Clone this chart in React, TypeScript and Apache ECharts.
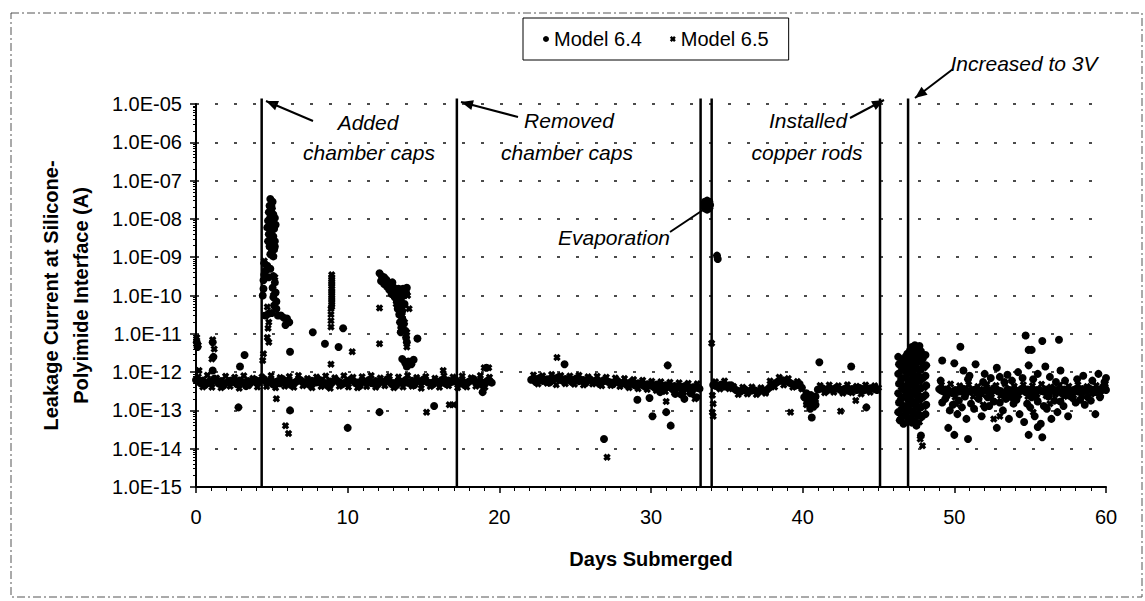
import React, { useEffect, useRef } from "react";
import * as echarts from "echarts";

const FONT = "'Liberation Sans', Arial, Helvetica, sans-serif";

const yTickLabels = [
  "1.0E-15", "1.0E-14", "1.0E-13", "1.0E-12", "1.0E-11", "1.0E-10",
  "1.0E-09", "1.0E-08", "1.0E-07", "1.0E-06", "1.0E-05",
];
const eventDays = [4.33, 17.2, 33.27, 34.0, 45.1, 46.95];

// ---- Model 6.4 (circles) ----
const model64Band: [number, number][] = [
  [0,6.2e-13],[0.3,5.1e-13],[0.6,4.6e-13],[0.9,5.8e-13],[1.2,6.7e-13],[1.5,5.0e-13],[1.8,4.4e-13],[2.1,5.5e-13],[2.4,6.1e-13],[2.7,4.8e-13],
  [3.0,5.6e-13],[3.3,4.3e-13],[3.6,5.2e-13],[3.9,6.3e-13],[4.2,5.9e-13],[4.5,6.5e-13],[4.8,5.3e-13],[5.1,4.7e-13],[5.4,5.8e-13],[5.7,6.6e-13],
  [6.0,5.1e-13],[6.3,4.5e-13],[6.6,5.6e-13],[6.9,6.1e-13],[7.2,5.0e-13],[7.5,4.6e-13],[7.8,5.7e-13],[8.1,6.3e-13],[8.4,4.9e-13],[8.7,4.3e-13],
  [9.0,5.4e-13],[9.3,6.0e-13],[9.6,4.7e-13],[9.9,5.5e-13],[10.2,6.4e-13],[10.5,5.2e-13],[10.8,4.4e-13],[11.1,5.7e-13],[11.4,6.2e-13],[11.7,5.0e-13],
  [12.0,4.8e-13],[12.3,5.6e-13],[12.6,6.5e-13],[12.9,4.9e-13],[13.2,4.5e-13],[13.5,5.4e-13],[13.8,6.1e-13],[14.1,5.1e-13],[14.4,4.6e-13],[14.7,5.8e-13],
  [15.0,6.4e-13],[15.3,5.3e-13],[15.6,4.7e-13],[15.9,5.6e-13],[16.2,6.2e-13],[16.5,4.9e-13],[16.8,5.5e-13],[17.1,6.3e-13],[17.4,5.0e-13],[17.7,4.6e-13],
  [18.0,5.7e-13],[18.3,6.6e-13],[18.6,5.2e-13],[18.9,4.5e-13],[19.2,5.9e-13],[19.5,5.3e-13],
  [22.1,6.3e-13],[22.4,5.5e-13],[22.7,7.1e-13],[23.0,6.0e-13],[23.3,5.3e-13],[23.6,6.8e-13],[23.9,7.4e-13],[24.2,5.8e-13],[24.5,6.5e-13],[24.8,5.4e-13],
  [25.1,6.9e-13],[25.4,6.1e-13],[25.7,5.2e-13],[26.0,6.4e-13],[26.3,5.7e-13],[26.6,4.9e-13],[26.9,6.2e-13],[27.2,5.5e-13],[27.5,4.8e-13],[27.8,5.9e-13],
  [28.1,5.1e-13],[28.4,4.6e-13],[28.7,5.6e-13],[29.0,4.4e-13],[29.3,5.0e-13],[29.6,4.2e-13],[29.9,4.8e-13],[30.2,4.0e-13],[30.5,4.6e-13],[30.8,3.8e-13],
  [31.1,4.5e-13],[31.4,3.6e-13],[31.7,4.2e-13],[32.0,3.9e-13],[32.3,4.4e-13],[32.6,3.5e-13],[32.9,4.1e-13],[33.2,3.7e-13],
  [34.1,4.6e-13],[34.4,4.2e-13],[34.7,4.8e-13],[35.0,4.3e-13],[35.3,4.5e-13],[35.6,3.4e-13],[35.9,3.1e-13],[36.2,3.5e-13],[36.5,3.2e-13],[36.8,3.4e-13],
  [37.1,3.0e-13],[37.4,3.3e-13],[37.7,3.6e-13],[38.0,4.6e-13],[38.3,5.4e-13],[38.6,6.2e-13],[38.9,5.8e-13],[39.2,5.1e-13],[39.5,4.4e-13],[39.8,4.9e-13],
  [40.1,2.2e-13],[40.4,1.7e-13],[40.7,2.0e-13],[41.0,3.5e-13],[41.3,3.8e-13],[41.6,3.3e-13],[41.9,3.6e-13],[42.2,3.9e-13],[42.5,3.4e-13],[42.8,3.7e-13],
  [43.1,3.2e-13],[43.4,3.6e-13],[43.7,3.9e-13],[44.0,3.3e-13],[44.3,3.5e-13],[44.6,3.8e-13],[44.9,3.4e-13],
  [49.0,3.6e-13],[49.3,3.1e-13],[49.6,3.4e-13],[49.9,2.8e-13],[50.2,3.3e-13],[50.5,3.7e-13],[50.8,2.9e-13],[51.1,3.2e-13],[51.4,3.5e-13],[51.7,2.7e-13],
  [52.0,3.4e-13],[52.3,3.0e-13],[52.6,3.8e-13],[52.9,3.1e-13],[53.2,2.8e-13],[53.5,3.5e-13],[53.8,3.2e-13],[54.1,2.6e-13],[54.4,3.6e-13],[54.7,3.0e-13],
  [55.0,3.3e-13],[55.3,2.7e-13],[55.6,3.4e-13],[55.9,3.1e-13],[56.2,2.9e-13],[56.5,3.5e-13],[56.8,3.2e-13],[57.1,2.8e-13],[57.4,3.4e-13],[57.7,3.1e-13],
  [58.0,3.6e-13],[58.3,3.0e-13],[58.6,3.3e-13],[58.9,3.7e-13],[59.2,3.2e-13],[59.5,3.5e-13],[59.8,4.1e-13],[60.0,3.4e-13],
];

// second row of the dense baseline readings
const model64BandMid: [number, number][] = [
  [0.15,5.7e-13],[0.45,6.0e-13],[0.75,5.2e-13],[1.05,5.5e-13],[1.35,6.2e-13],[1.65,5.8e-13],[1.95,5.1e-13],[2.25,5.9e-13],[2.55,5.4e-13],[2.85,6.0e-13],
  [3.15,5.3e-13],[3.45,5.8e-13],[3.75,6.1e-13],[4.05,5.2e-13],[4.65,5.6e-13],[4.95,6.0e-13],[5.25,5.5e-13],[5.55,5.1e-13],[5.85,5.9e-13],[6.15,5.7e-13],
  [6.45,5.2e-13],[6.75,6.1e-13],[7.05,5.6e-13],[7.35,5.3e-13],[7.65,5.9e-13],[7.95,5.4e-13],[8.25,6.0e-13],[8.55,5.2e-13],[8.85,5.7e-13],[9.15,6.2e-13],
  [9.45,5.5e-13],[9.75,5.1e-13],[10.05,5.8e-13],[10.35,5.9e-13],[10.65,5.3e-13],[10.95,6.0e-13],[11.25,5.6e-13],[11.55,5.2e-13],[11.85,5.8e-13],[12.15,6.1e-13],
  [12.45,5.4e-13],[12.75,5.7e-13],[13.05,5.2e-13],[13.35,6.0e-13],[13.65,5.5e-13],[13.95,5.3e-13],[14.25,5.9e-13],[14.55,6.1e-13],[14.85,5.4e-13],[15.15,5.8e-13],
  [15.45,5.2e-13],[15.75,5.9e-13],[16.05,5.6e-13],[16.35,5.3e-13],[16.65,6.0e-13],[16.95,5.7e-13],[17.25,5.4e-13],[17.55,5.9e-13],[17.85,5.2e-13],[18.15,6.1e-13],
  [18.45,5.6e-13],[18.75,5.8e-13],[19.05,5.3e-13],[19.35,5.7e-13],
  [22.25,6.4e-13],[22.55,6.7e-13],[22.85,5.9e-13],[23.15,6.5e-13],[23.45,6.1e-13],[23.75,6.9e-13],[24.05,6.3e-13],[24.35,6.6e-13],[24.65,6.0e-13],[24.95,6.4e-13],
  [25.25,5.8e-13],[25.55,6.2e-13],[25.85,6.5e-13],[26.15,5.7e-13],[26.45,6.0e-13],[26.75,5.6e-13],[27.05,5.9e-13],[27.35,5.3e-13],[27.65,5.6e-13],[27.95,5.1e-13],
  [28.25,5.4e-13],[28.55,5.0e-13],[28.85,4.7e-13],[29.15,5.1e-13],[29.45,4.6e-13],[29.75,4.8e-13],[30.05,4.4e-13],[30.35,4.7e-13],[30.65,4.2e-13],[30.95,4.5e-13],
  [31.25,4.1e-13],[31.55,4.3e-13],[31.85,3.9e-13],[32.15,4.2e-13],[32.45,3.8e-13],[32.75,4.0e-13],[33.05,3.9e-13],
  [34.25,4.4e-13],[34.55,4.6e-13],[34.85,4.2e-13],[35.15,4.5e-13],[35.45,3.8e-13],[35.75,3.2e-13],[36.05,3.4e-13],[36.35,3.1e-13],[36.65,3.3e-13],[36.95,3.2e-13],
  [37.25,3.4e-13],[37.55,3.1e-13],[37.85,4.1e-13],[38.15,5.0e-13],[38.45,5.8e-13],[38.75,6.0e-13],[39.05,5.5e-13],[39.35,4.8e-13],[39.65,4.6e-13],[39.95,3.9e-13],
  [40.25,2.0e-13],[40.55,1.8e-13],[40.85,2.3e-13],[41.15,3.7e-13],[41.45,3.5e-13],[41.75,3.8e-13],[42.05,3.4e-13],[42.35,3.7e-13],[42.65,3.5e-13],[42.95,3.3e-13],
  [43.25,3.6e-13],[43.55,3.4e-13],[43.85,3.7e-13],[44.15,3.5e-13],[44.45,3.8e-13],[44.75,3.6e-13],
  [49.15,3.3e-13],[49.45,3.5e-13],[49.75,3.0e-13],[50.05,3.4e-13],[50.35,3.1e-13],[50.65,3.6e-13],[50.95,3.2e-13],[51.25,3.4e-13],[51.55,2.9e-13],[51.85,3.3e-13],
  [52.15,3.6e-13],[52.45,3.1e-13],[52.75,3.4e-13],[53.05,3.2e-13],[53.35,2.9e-13],[53.65,3.4e-13],[53.95,3.6e-13],[54.25,3.1e-13],[54.55,3.3e-13],[54.85,3.5e-13],
  [55.15,3.0e-13],[55.45,3.4e-13],[55.75,3.2e-13],[56.05,3.5e-13],[56.35,3.1e-13],[56.65,3.3e-13],[56.95,3.0e-13],[57.25,3.5e-13],[57.55,3.2e-13],[57.85,3.4e-13],
  [58.15,3.1e-13],[58.45,3.6e-13],[58.75,3.3e-13],[59.05,3.5e-13],[59.35,3.0e-13],[59.65,3.4e-13],[59.95,3.7e-13],
];

const model64Spikes: [number, number][] = [
  // after "Added chamber caps"
  [4.9,3.3e-8],[5.05,2.8e-8],[4.85,2.2e-8],[5.0,1.9e-8],[4.8,1.5e-8],[5.1,1.3e-8],[4.9,1.1e-8],[4.75,9e-9],[5.05,8e-9],[4.85,6.5e-9],
  [5.15,5.5e-9],[4.95,5e-9],[4.8,4e-9],[5.1,3.5e-9],[4.9,3e-9],[5.2,2.6e-9],[5.0,2.2e-9],[4.85,1.9e-9],[5.15,1.6e-9],[5.0,1.4e-9],
  [4.9,1.2e-9],[5.1,1.05e-9],[5.2,1.9e-9],[4.75,2.6e-9],[5.25,7e-9],[4.95,1.6e-8],[4.7,6e-9],[5.2,1.05e-8],
  [4.5,7e-10],[4.7,6e-10],[4.6,4.5e-10],[4.9,5e-10],[4.5,3.5e-10],[4.8,3e-10],[5.1,3.2e-10],[5.2,2.2e-10],[5.05,1.6e-10],[5.25,1.2e-10],
  [5.1,9e-11],[5.3,7e-11],[5.15,5.5e-11],[5.3,4.5e-11],[5.0,3.5e-11],[5.4,3e-11],[5.6,3e-11],[5.8,2.6e-11],[6.0,2.5e-11],[6.15,2e-11],
  [5.9,1.7e-11],[4.6,3e-11],[4.8,3.4e-11],[4.45,2.5e-10],[4.45,1.5e-10],[4.4,1e-10],[6.2,1e-13],
  // early outliers
  [0.05,6e-12],[0.1,4.5e-12],[1.1,6e-12],[1.15,2.5e-12],[1.1,1.1e-12],[2.8,1.2e-13],[2.9,1.4e-12],[3.2,2.8e-12],
  [6.2,3.4e-12],[7.7,1.1e-11],[8.5,5.5e-12],[9.4,4.5e-12],[9.7,1.4e-11],[10.0,3.5e-14],[12.1,9e-14],[14.6,7.5e-12],[15.7,1.3e-13],
  // days 12-14 cluster
  [12.1,3.8e-10],[12.25,3.2e-10],[12.2,2.4e-10],[12.4,3e-10],[12.4,2e-10],[12.55,2.6e-10],[12.6,1.7e-10],[12.7,2.2e-10],[12.75,1.4e-10],[12.9,1.9e-10],
  [12.9,1.1e-10],[13.05,1.6e-10],[13.1,9e-11],[13.2,1.3e-10],[13.25,7e-11],[13.35,1.5e-10],[13.4,1.1e-10],[13.45,5.5e-11],[13.5,8e-11],[13.55,1.3e-10],
  [13.65,1.5e-10],[13.7,1e-10],[13.75,6e-11],[13.85,1.2e-10],[13.9,1.6e-10],[13.6,4e-11],[13.3,4.5e-11],[13.4,3.2e-11],[13.6,2.5e-11],[13.45,2e-11],
  [13.7,1.8e-11],[13.55,1.5e-11],[13.8,1.2e-11],[13.5,1.1e-11],[13.85,8e-12],[13.9,6e-12],[12.95,2.2e-10],
  [13.6,2.2e-12],[13.8,1.7e-12],[14.0,1.9e-12],[14.2,1.6e-12],[14.35,2.1e-12],[13.9,1.4e-12],
  [19.15,1.3e-12],[18.9,3e-13],
  // days 22-33
  [24.3,1.6e-12],[26.9,1.8e-14],[29.1,1.9e-13],[29.9,2.1e-13],[30.1,7e-14],[31.0,9e-14],[31.3,4e-14],[31.1,1.5e-12],[32.2,2e-13],[32.0,2.6e-13],
  [33.0,2.2e-13],[32.6,2.8e-13],[31.6,2.7e-13],[30.6,3e-13],
  // evaporation
  [33.7,2.3e-8],[33.6,2.1e-8],[33.8,2.5e-8],[33.65,2.6e-8],[33.75,2e-8],[33.5,2.3e-8],[33.9,2.3e-8],[33.7,3.0e-8],[33.7,1.75e-8],
  [33.55,2.8e-8],[33.85,2.8e-8],[33.55,1.9e-8],[33.85,1.9e-8],
  [34.35,1.1e-9],[34.4,9e-10],
  // days 34-45
  [41.1,1.8e-12],[43.2,1.4e-12],[40.6,6.5e-14],[44.2,1.2e-13],[40.3,1.5e-13],[40.5,1.1e-13],[40.25,2.8e-13],[40.55,2.5e-13],[40.85,1.4e-13],
  // days 46-48 cluster
  [46.3,2.5e-12],[46.35,1.6e-12],[46.3,9e-13],[46.35,5e-13],[46.3,2.8e-13],[46.35,1.6e-13],[46.3,9e-14],[46.4,5.5e-14],
  [46.6,2.2e-12],[46.65,1.3e-12],[46.6,7e-13],[46.65,4e-13],[46.6,2.2e-13],[46.65,1.2e-13],[46.6,7e-14],[46.65,4.5e-14],
  [46.9,3e-12],[46.95,1.8e-12],[46.9,1.1e-12],[46.95,6e-13],[46.9,3.4e-13],[46.95,1.9e-13],[46.9,1.05e-13],[46.95,6e-14],
  [47.2,4.5e-12],[47.25,2.6e-12],[47.2,1.5e-12],[47.25,8.5e-13],[47.2,4.8e-13],[47.25,2.7e-13],[47.2,1.5e-13],[47.25,8.5e-14],[47.2,4.8e-14],
  [47.5,4e-12],[47.55,2.3e-12],[47.5,1.3e-12],[47.55,7.5e-13],[47.5,4.2e-13],[47.55,2.4e-13],[47.5,1.3e-13],[47.55,7.5e-14],[47.5,4e-14],
  [47.8,3.5e-12],[47.85,2e-12],[47.8,1.15e-12],[47.85,6.5e-13],[47.8,3.8e-13],[47.85,2.1e-13],[47.8,1.2e-13],[47.85,6.8e-14],[47.8,2.2e-14],
  [48.1,2.8e-12],[48.15,1.5e-12],[48.1,8e-13],[48.15,4.5e-13],[48.1,2.5e-13],[48.15,1.4e-13],[48.1,8e-14],[47.4,5e-12],[47.7,4.8e-12],
  // days 49-60 scatter
  [49.2,2e-12],[50.0,1.7e-12],[50.4,4.6e-12],[51.4,1.6e-12],[52.8,1.3e-12],[54.7,9e-12],[54.9,3.8e-12],[55.1,3.8e-12],[55.8,6.5e-12],[56.0,1.4e-12],
  [56.9,7e-12],[57.0,1.1e-12],[60.0,7e-13],[51.0,8e-13],[52.0,9e-13],[53.5,8.5e-13],[54.2,1e-12],[54.9,1.5e-12],[55.5,9e-13],[58.5,8e-13],
  [59.5,9e-13],[50.6,1.1e-12],[53.0,7.5e-13],[49.1,6e-13],[50.9,6.5e-13],[52.4,7e-13],[53.8,6e-13],[54.5,7e-13],[55.2,6.5e-13],[56.3,7.5e-13],
  [57.3,6e-13],[58.1,6.5e-13],[59.1,6e-13],[59.9,5.5e-13],[51.9,5.5e-13],[53.3,5.5e-13],[56.7,5.5e-13],
  [49.6,3.5e-14],[50.0,2.3e-14],[50.9,1.8e-14],[52.8,3.5e-14],[54.9,2.3e-14],[55.8,2e-14],[55.5,3.7e-14],[59.3,8e-14],[49.2,1.6e-13],[49.7,1e-13],
  [50.2,8e-14],[50.5,1.2e-13],[50.8,6e-14],[51.3,1.1e-13],[51.8,7e-14],[52.3,1.3e-13],[53.2,1e-13],[53.6,6e-14],[53.9,1.5e-13],[54.3,8e-14],
  [54.6,5e-14],[55.0,1.2e-13],[55.3,7e-14],[55.7,4.5e-14],[56.1,1.1e-13],[56.4,6e-14],[56.8,9e-14],[57.2,1.3e-13],[57.5,7e-14],[58.0,1.6e-13],
  [58.6,1.4e-13],[59.0,1.8e-13],[49.4,2e-13],[50.3,1.8e-13],[51.6,2e-13],[52.6,1.7e-13],[53.4,2e-13],[54.1,1.9e-13],[55.5,1.7e-13],[56.6,1.8e-13],
  [57.8,2.1e-13],[59.6,2.2e-13],[49.9,1.4e-13],[51.1,1.5e-13],[52.0,1.2e-13],[53.0,1.6e-13],[54.8,1.5e-13],[55.9,1.3e-13],[57.0,1.7e-13],[58.3,1.9e-13],
  [49.5,2.4e-13],[50.7,2.3e-13],[52.2,2.2e-13],[53.7,2.3e-13],[55.1,2.2e-13],[56.2,2.3e-13],[57.6,2.4e-13],[58.8,2.2e-13],
];

// ---- Model 6.5 (crosses) ----
const model65Band: [number, number][] = [
  [0.15,7.6e-13],[0.45,4.1e-13],[0.75,8.3e-13],[1.05,4.0e-13],[1.35,7.0e-13],[1.65,3.9e-13],[1.95,7.8e-13],[2.25,4.3e-13],[2.55,7.3e-13],[2.85,3.8e-13],
  [3.15,8.0e-13],[3.45,4.4e-13],[3.75,6.9e-13],[4.05,4.1e-13],[4.35,7.5e-13],[4.65,4.2e-13],[4.95,8.1e-13],[5.25,3.9e-13],[5.55,7.2e-13],[5.85,4.3e-13],
  [6.15,7.7e-13],[6.45,4.0e-13],[6.75,8.2e-13],[7.05,4.4e-13],[7.35,6.8e-13],[7.65,3.9e-13],[7.95,7.4e-13],[8.25,4.2e-13],[8.55,7.9e-13],[8.85,3.8e-13],
  [9.15,7.1e-13],[9.45,4.3e-13],[9.75,8.0e-13],[10.05,4.1e-13],[10.35,7.3e-13],[10.65,3.9e-13],[10.95,7.6e-13],[11.25,4.2e-13],[11.55,8.2e-13],[11.85,4.0e-13],
  [12.15,7.0e-13],[12.45,4.4e-13],[12.75,7.8e-13],[13.05,3.9e-13],[13.35,7.4e-13],[13.65,4.1e-13],[13.95,8.1e-13],[14.25,4.3e-13],[14.55,7.2e-13],[14.85,3.8e-13],
  [15.15,7.7e-13],[15.45,4.2e-13],[15.75,6.9e-13],[16.05,4.0e-13],[16.35,8.0e-13],[16.65,4.4e-13],[16.95,7.5e-13],[17.25,3.9e-13],[17.55,7.9e-13],[17.85,4.1e-13],
  [18.15,7.1e-13],[18.45,4.3e-13],[18.75,8.2e-13],[19.05,4.0e-13],[19.35,7.3e-13],
  [22.25,8.4e-13],[22.55,4.9e-13],[22.85,8.0e-13],[23.15,5.1e-13],[23.45,8.6e-13],[23.75,4.7e-13],[24.05,8.2e-13],[24.35,5.0e-13],[24.65,7.9e-13],[24.95,4.8e-13],
  [25.25,8.3e-13],[25.55,4.6e-13],[25.85,7.6e-13],[26.15,4.9e-13],[26.45,7.8e-13],[26.75,4.4e-13],[27.05,7.3e-13],[27.35,4.5e-13],[27.65,7.0e-13],[27.95,4.2e-13],
  [28.25,6.8e-13],[28.55,3.9e-13],[28.85,6.4e-13],[29.15,3.7e-13],[29.45,6.1e-13],[29.75,3.5e-13],[30.05,5.8e-13],[30.35,3.3e-13],[30.65,5.6e-13],[30.95,3.1e-13],
  [31.25,5.4e-13],[31.55,2.9e-13],[31.85,5.3e-13],[32.15,3.0e-13],[32.45,5.1e-13],[32.75,2.8e-13],[33.05,5.0e-13],
  [34.25,5.6e-13],[34.55,3.6e-13],[34.85,5.9e-13],[35.15,3.7e-13],[35.45,4.2e-13],[35.75,2.6e-13],[36.05,4.0e-13],[36.35,2.7e-13],[36.65,4.1e-13],[36.95,2.6e-13],
  [37.25,3.9e-13],[37.55,2.8e-13],[37.85,5.9e-13],[38.15,4.1e-13],[38.45,7.3e-13],[38.75,4.6e-13],[39.05,6.8e-13],[39.35,4.0e-13],[39.65,5.7e-13],[39.95,3.6e-13],
  [40.25,1.4e-13],[40.55,2.4e-13],[40.85,1.6e-13],[41.15,4.5e-13],[41.45,2.9e-13],[41.75,4.6e-13],[42.05,3.0e-13],[42.35,4.4e-13],[42.65,2.8e-13],[42.95,4.7e-13],
  [43.25,2.9e-13],[43.55,4.3e-13],[43.85,2.7e-13],[44.15,4.6e-13],[44.45,3.0e-13],[44.75,4.4e-13],[45.0,3.9e-13],
  [49.15,4.6e-13],[49.45,2.4e-13],[49.75,4.9e-13],[50.05,2.2e-13],[50.35,4.4e-13],[50.65,2.5e-13],[50.95,4.7e-13],[51.25,2.3e-13],[51.55,4.2e-13],[51.85,2.6e-13],
  [52.15,4.8e-13],[52.45,2.2e-13],[52.75,4.5e-13],[53.05,2.4e-13],[53.35,4.9e-13],[53.65,2.1e-13],[53.95,4.3e-13],[54.25,2.5e-13],[54.55,4.7e-13],[54.85,2.3e-13],
  [55.15,4.4e-13],[55.45,2.2e-13],[55.75,4.8e-13],[56.05,2.4e-13],[56.35,4.1e-13],[56.65,2.6e-13],[56.95,4.6e-13],[57.25,2.3e-13],[57.55,4.3e-13],[57.85,2.5e-13],
  [58.15,4.7e-13],[58.45,2.4e-13],[58.75,4.2e-13],[59.05,2.7e-13],[59.35,4.5e-13],[59.65,2.6e-13],[59.95,5.0e-13],
];

const model65Spikes: [number, number][] = [
  [0.05,8e-12],[0.15,5e-12],[1.1,7e-12],[1.2,4e-12],[1.05,2.2e-12],[0.2,1.1e-12],
  [4.5,8e-10],[4.7,5e-11],[4.55,3e-11],[4.8,2e-11],[4.75,1.4e-11],[4.7,8e-12],[4.8,6e-12],[4.45,3e-12],[4.4,2e-12],[5.2,3e-10],
  [5.1,1e-10],[5.0,2e-8],[4.9,4e-9],[5.3,2e-13],[5.9,4e-14],[6.1,2.5e-14],
  [8.95,3.5e-10],[8.95,3e-10],[8.95,2.6e-10],[8.95,2.3e-10],[8.95,2e-10],[8.95,1.75e-10],[8.95,1.5e-10],[8.95,1.3e-10],[8.95,1.15e-10],[8.95,1e-10],
  [8.95,8.8e-11],[8.95,7.7e-11],[8.95,6.7e-11],[8.95,5.8e-11],[8.95,5.1e-11],[8.9,4.5e-11],[8.9,3.2e-11],[8.9,2.2e-11],[8.9,1.5e-11],[8.9,1.6e-12],
  [10.3,3.4e-12],[12.1,4.7e-11],[12.1,5.5e-12],[13.9,4.5e-12],[15.2,9e-14],[16.3,1.1e-12],[16.7,1.4e-13],[17.0,1.4e-13],
  [13.2,6e-11],[13.6,3e-11],[13.75,2e-11],[13.9,1.1e-11],[13.5,1.3e-11],[14.05,4.5e-11],[13.95,1e-10],[12.8,1.5e-10],
  [19.0,1.3e-12],[19.3,1.3e-12],
  [23.8,2.4e-12],[27.1,6e-15],[31.0,1.7e-13],[32.9,2e-13],
  [34.0,5.7e-12],[34.05,2.5e-13],[34.1,1.5e-13],[34.05,9e-14],[34.1,7e-14],
  [39.2,9e-14],[42.5,9.5e-14],[43.5,1.8e-13],[40.4,2.2e-13],[40.7,1.2e-13],
  [46.45,2e-12],[46.5,1.1e-12],[46.45,6e-13],[46.5,3.4e-13],[46.45,1.9e-13],[46.5,1.05e-13],[46.45,7e-14],
  [46.8,2.6e-12],[46.75,1.5e-12],[46.8,8.5e-13],[46.75,4.6e-13],[46.8,2.6e-13],[46.75,1.4e-13],[46.8,8e-14],
  [47.05,3.6e-12],[47.1,2e-12],[47.05,1.2e-12],[47.1,6.5e-13],[47.05,3.7e-13],[47.1,2.1e-13],[47.05,1.2e-13],[47.1,6.5e-14],
  [47.35,3.4e-12],[47.4,1.9e-12],[47.35,1e-12],[47.4,5.8e-13],[47.35,3.2e-13],[47.4,1.8e-13],[47.35,1e-13],[47.4,5.8e-14],
  [47.65,3e-12],[47.7,1.7e-12],[47.65,9.5e-13],[47.7,5.4e-13],[47.65,3e-13],[47.7,1.7e-13],[47.65,9.5e-14],[47.7,5e-14],
  [47.95,2.3e-12],[48.0,1.3e-12],[47.95,7e-13],[48.0,3.9e-13],[47.95,2.2e-13],[48.0,1.25e-13],[47.9,1.2e-14],[47.75,1.8e-14],
  [52.6,6e-14],[53.0,7e-14],[55.2,9e-14],[54.2,2.5e-13],[56.3,1.5e-13],[54.95,3.8e-12],[50.1,1.5e-13],[51.9,1.4e-13],
  [49.3,3.5e-13],[50.4,3.2e-13],[51.7,3.5e-13],[52.9,3.3e-13],[54.0,3.4e-13],[55.4,3.2e-13],[56.8,3.5e-13],[58.0,3.3e-13],[59.2,3.4e-13],
];

const CROSS =
  "path://M0,3L3,0L5,2L7,0L10,3L8,5L10,7L7,10L5,8L3,10L0,7L2,5Z";

function arrow(x1: number, y1: number, x2: number, y2: number, head = true) {
  const items: any[] = [
    {
      type: "line",
      shape: { x1, y1, x2, y2 },
      style: { stroke: "#000", lineWidth: 2 },
      silent: true,
    },
  ];
  if (head) {
    const a = Math.atan2(y2 - y1, x2 - x1);
    const L = 12, W = 5;
    const bx = x2 - L * Math.cos(a), by = y2 - L * Math.sin(a);
    items.push({
      type: "polygon",
      shape: {
        points: [
          [x2, y2],
          [bx + W * Math.sin(a), by - W * Math.cos(a)],
          [bx - W * Math.sin(a), by + W * Math.cos(a)],
        ],
      },
      style: { fill: "#000" },
      silent: true,
    });
  }
  return items;
}

function label(text: string, x: number, y: number) {
  return {
    type: "text",
    x,
    y,
    silent: true,
    style: {
      text,
      fill: "#000",
      font: `italic 21px ${FONT}`,
      align: "center",
      verticalAlign: "middle",
    },
  };
}

export default function App() {
  const ref = useRef<HTMLDivElement>(null);
  useEffect(() => {
    document.body.style.margin = "0";
    if (!ref.current) return;
    const chart = echarts.init(ref.current, null, { renderer: "svg" });
    const eventSeries = eventDays.map((d, i) => ({
      name: "event" + i,
      type: "line",
      data: [
        [d, 1e-15],
        [d, 1.4e-5],
      ],
      symbol: "none",
      clip: false,
      silent: true,
      z: 1,
      lineStyle: { color: "#000", width: 2.5 },
    }));
    chart.setOption({
      animation: false,
      backgroundColor: "#fff",
      textStyle: { fontFamily: FONT },
      grid: { left: 196, right: 39, top: 104, bottom: 114, containLabel: false },
      legend: {
        data: ["Model 6.4", "Model 6.5"],
        left: 523,
        top: 18,
        padding: [11, 20],
        itemGap: 28,
        itemWidth: 6,
        itemHeight: 6,
        borderColor: "#000",
        borderWidth: 1,
        backgroundColor: "#fff",
        textStyle: { fontSize: 20, color: "#000", fontFamily: FONT },
      },
      xAxis: {
        type: "value",
        min: 0,
        max: 60,
        interval: 10,
        name: "Days Submerged",
        nameLocation: "middle",
        nameGap: 62,
        nameTextStyle: { fontSize: 20, fontWeight: "bold", color: "#000", fontFamily: FONT },
        axisLine: { lineStyle: { color: "#000", width: 2 } },
        axisTick: { length: 6, lineStyle: { color: "#000", width: 1.5 } },
        minorTick: { show: true, splitNumber: 10, length: 4, lineStyle: { color: "#000", width: 1 } },
        axisLabel: { fontSize: 20, color: "#000", margin: 20, fontFamily: FONT },
        splitLine: { show: false },
      },
      yAxis: {
        type: "log",
        logBase: 10,
        min: 1e-15,
        max: 1e-5,
        splitNumber: 10,
        name: "Leakage Current at Silicone-\nPolyimide Interface (A)",
        nameLocation: "middle",
        nameGap: 100,
        nameRotate: 90,
        nameTextStyle: { fontSize: 20, fontWeight: "bold", color: "#000", lineHeight: 30, fontFamily: FONT },
        axisLine: { show: true, lineStyle: { color: "#000", width: 2 } },
        axisTick: { show: true, length: 6, lineStyle: { color: "#000", width: 1.5 } },
        minorTick: { show: true, splitNumber: 9, length: 3, lineStyle: { color: "#000", width: 1 } },
        axisLabel: {
          fontSize: 20,
          color: "#000",
          margin: 14,
          fontFamily: FONT,
          formatter: (v: number) => {
            const e = Math.round(Math.log10(v));
            return yTickLabels[e + 15] ?? "";
          },
        },
        splitLine: { show: true, lineStyle: { color: "#111", type: [3, 16], width: 1.5 } },
      },
      series: [
        ...eventSeries,
        {
          name: "Model 6.4",
          type: "scatter",
          symbol: "circle",
          symbolSize: 8,
          itemStyle: { color: "#000", opacity: 1 },
          data: [...model64Band, ...model64BandMid, ...model64Spikes],
          z: 3,
        },
        {
          name: "Model 6.5",
          type: "scatter",
          symbol: CROSS,
          symbolSize: 7.5,
          itemStyle: { color: "#000", opacity: 1 },
          data: [...model65Band, ...model65Spikes],
          z: 3,
        },
      ],
      graphic: [
        {
          type: "rect",
          shape: { x: 11, y: 13, width: 1131, height: 584 },
          style: { fill: "none", stroke: "#555", lineWidth: 1, lineDash: [8, 3, 2, 3] },
          silent: true,
          z: -1,
        },
        label("Added", 368, 122),
        label("chamber caps", 369, 152),
        ...arrow(313, 121, 266, 101),
        label("Removed", 569, 120),
        label("chamber caps", 567, 152),
        ...arrow(518, 117, 461, 102),
        label("Installed", 808, 120),
        label("copper rods", 807, 152),
        ...arrow(850, 118, 884, 100),
        label("Increased to 3V", 1024, 63),
        ...arrow(953, 69, 915, 98),
        label("Evaporation", 614, 237),
        ...arrow(670, 232, 703, 210, false),
      ],
    });
    return () => chart.dispose();
  }, []);
  return <div ref={ref} style={{ width: 1145, height: 601 }} />;
}
